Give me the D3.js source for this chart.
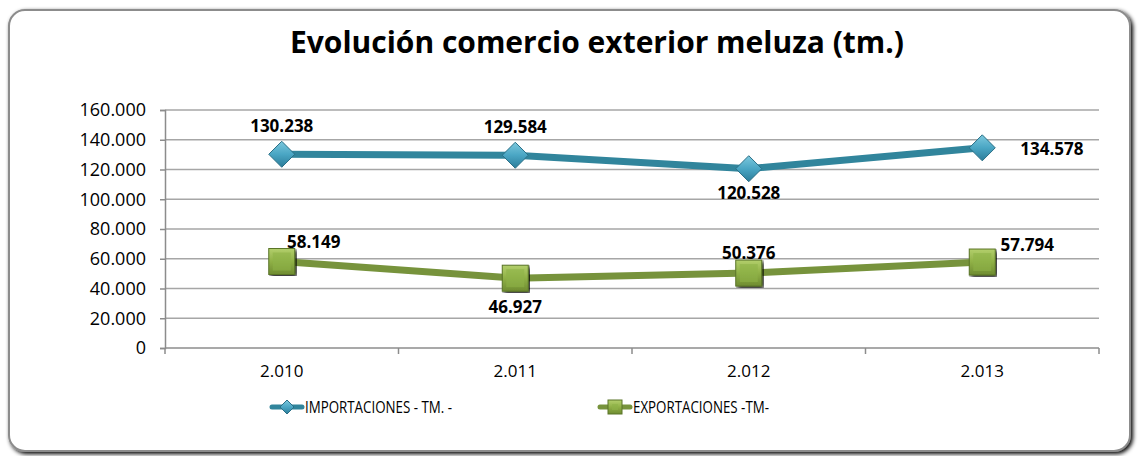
<!DOCTYPE html>
<html>
<head>
<meta charset="utf-8">
<script src="https://cdn.jsdelivr.net/npm/d3@7"></script>
<style>
  body { margin: 0; background: #fff; }
  text { font-family: "Open Sans", "DejaVu Sans", sans-serif; }
</style>
</head>
<body>
<div id="chart"></div>
<script>
(function() {

  var width = 1138, height = 456;

  // data
  var years = ["2.010", "2.011", "2.012", "2.013"];
  var importaciones = [130238, 129584, 120528, 134578];
  var exportaciones = [58149, 46927, 50376, 57794];
  var yTicks = [0, 20000, 40000, 60000, 80000, 100000, 120000, 140000, 160000];

  var fmt = function(v) {
    return d3.format(",")(v).replace(/,/g, ".");
  };

  var svg = d3.select("#chart").append("svg")
    .attr("width", width)
    .attr("height", height);

  var defs = svg.append("defs");

  var shadow = defs.append("filter").attr("id", "shadow")
    .attr("x", "-5%").attr("y", "-5%").attr("width", "110%").attr("height", "110%");
  shadow.append("feGaussianBlur").attr("in", "SourceAlpha").attr("stdDeviation", 2);
  shadow.append("feOffset").attr("dx", 2).attr("dy", 2).attr("result", "b");
  var merge = shadow.append("feMerge");
  merge.append("feMergeNode").attr("in", "b");
  merge.append("feMergeNode").attr("in", "SourceGraphic");

  var gBlue = defs.append("linearGradient").attr("id", "gBlue")
    .attr("x1", 0).attr("y1", 0).attr("x2", 0).attr("y2", 1);
  gBlue.append("stop").attr("offset", "0%").attr("stop-color", "#7cc8dd");
  gBlue.append("stop").attr("offset", "50%").attr("stop-color", "#4aa6c4");
  gBlue.append("stop").attr("offset", "100%").attr("stop-color", "#2b7c99");

  var gGreen = defs.append("linearGradient").attr("id", "gGreen")
    .attr("x1", 0).attr("y1", 0).attr("x2", 0).attr("y2", 1);
  gGreen.append("stop").attr("offset", "0%").attr("stop-color", "#b3cf6c");
  gGreen.append("stop").attr("offset", "50%").attr("stop-color", "#8fb046");
  gGreen.append("stop").attr("offset", "100%").attr("stop-color", "#6f8c31");

  // outer frame
  svg.append("rect")
    .attr("x", 9).attr("y", 10)
    .attr("width", 1121).attr("height", 441)
    .attr("rx", 16)
    .attr("fill", "#fff")
    .attr("stroke", "#8c8c8c")
    .attr("stroke-width", 2)
    .attr("filter", "url(#shadow)");

  svg.append("text")
    .attr("x", 597).attr("y", 53)
    .attr("text-anchor", "middle")
    .attr("font-size", 31)
    .attr("font-weight", "bold")
    .attr("textLength", 614)
    .attr("lengthAdjust", "spacingAndGlyphs")
    .text("Evolución comercio exterior meluza (tm.)");

  var x = d3.scaleBand().domain(years).range([165, 1099]);
  var y = d3.scaleLinear().domain([0, 160000]).range([348, 110]);
  var cx = function(d, i) { return x(years[i]) + x.bandwidth() / 2; };

  // gridlines
  svg.append("g").selectAll("line")
    .data(yTicks.filter(function(d) { return d > 0; }))
    .enter().append("line")
    .attr("x1", 165).attr("x2", 1099)
    .attr("y1", function(d) { return y(d); })
    .attr("y2", function(d) { return y(d); })
    .attr("stroke", "#a6a6a6").attr("stroke-width", 1.5);

  var yAxis = svg.append("g")
    .attr("transform", "translate(165,0)")
    .call(d3.axisLeft(y).tickValues(yTicks).tickSize(5).tickPadding(14).tickFormat(fmt));
  yAxis.selectAll("text").attr("font-size", 18).attr("fill", "#000")
    .attr("font-family", "'Open Sans', sans-serif");
  yAxis.selectAll("line, path").attr("stroke", "#8c8c8c").attr("stroke-width", 1.5);

  var xAxis = svg.append("g")
    .attr("transform", "translate(0,348)")
    .call(d3.axisBottom(x).tickSize(0).tickPadding(17));
  xAxis.selectAll("text").attr("font-size", 17).attr("fill", "#000")
    .attr("font-family", "'Open Sans', sans-serif");
  xAxis.select(".domain").attr("stroke", "#8c8c8c").attr("stroke-width", 1.5)
    .attr("d", "M165,0H1099");
  // category boundary ticks
  xAxis.selectAll(".sep").data(d3.range(years.length + 1)).enter().append("line")
    .attr("x1", function(i) { return 165 + i * x.bandwidth(); })
    .attr("x2", function(i) { return 165 + i * x.bandwidth(); })
    .attr("y1", 0).attr("y2", 6)
    .attr("stroke", "#8c8c8c").attr("stroke-width", 1.5);

  var line = d3.line().x(cx).y(function(d) { return y(d); });

  svg.append("path").datum(importaciones)
    .attr("d", line).attr("fill", "none")
    .attr("stroke", "#31859c").attr("stroke-width", 7).attr("stroke-linejoin", "round");
  svg.append("path").datum(exportaciones)
    .attr("d", line).attr("fill", "none")
    .attr("stroke", "#77933c").attr("stroke-width", 7).attr("stroke-linejoin", "round");

  function diamond(g, s) {
    g.append("path")
      .attr("d", "M0," + (-s) + "L" + s + ",0L0," + s + "L" + (-s) + ",0Z")
      .attr("fill", "url(#gBlue)")
      .attr("stroke", "#2a6f86").attr("stroke-width", 1);
  }
  function square(g, s) {
    g.append("rect")
      .attr("x", -s).attr("y", -s).attr("width", 2 * s).attr("height", 2 * s)
      .attr("fill", "url(#gGreen)")
      .attr("stroke", "#5a7428").attr("stroke-width", 1);
    g.append("rect")
      .attr("x", -s + 4).attr("y", -s + 4).attr("width", 2 * s - 8).attr("height", 2 * s - 8)
      .attr("fill", "#8db347").attr("opacity", 0.6);
  }

  svg.append("g").selectAll("g").data(importaciones).enter().append("g")
    .attr("transform", function(d, i) { return "translate(" + cx(d, i) + "," + y(d) + ")"; })
    .each(function() { diamond(d3.select(this), 13); });

  svg.append("g").selectAll("g").data(exportaciones).enter().append("g")
    .attr("transform", function(d, i) { return "translate(" + cx(d, i) + "," + y(d) + ")"; })
    .attr("filter", "url(#shadow)")
    .each(function() { square(d3.select(this), 13); });

  // data labels: offsets per point
  var impOff = [[0, -22, "middle"], [0, -22, "middle"], [0, 30, "middle"], [38, 7, "start"]];
  var expOff = [[32, -14, "middle"], [0, 35, "middle"], [0, -14, "middle"], [45, -11, "middle"]];

  function labels(data, off) {
    svg.append("g").selectAll("text").data(data).enter().append("text")
      .attr("x", function(d, i) { return cx(d, i) + off[i][0]; })
      .attr("y", function(d, i) { return y(d) + off[i][1]; })
      .attr("text-anchor", function(d, i) { return off[i][2]; })
      .attr("font-size", 17).attr("font-weight", "bold")
      .text(fmt);
  }
  labels(importaciones, impOff);
  labels(exportaciones, expOff);

  // legend
  var legend = [
    { name: "IMPORTACIONES - TM. -", x: 270, w: 147, color: "#31859c", m: "d" },
    { name: "EXPORTACIONES -TM-", x: 598, w: 136, color: "#77933c", m: "s" }
  ];
  var lg = svg.append("g").selectAll("g").data(legend).enter().append("g")
    .attr("transform", function(d) { return "translate(" + d.x + ",407)"; });
  lg.append("line").attr("x1", 2).attr("x2", 32)
    .attr("stroke", function(d) { return d.color; })
    .attr("stroke-width", 5).attr("stroke-linecap", "round");
  lg.each(function(d) {
    var g = d3.select(this).append("g").attr("transform", "translate(17,0)");
    if (d.m === "d") diamond(g, 7); else square(g, 7);
  });
  lg.append("text").attr("x", 35).attr("y", 6)
    .attr("font-size", 16)
    .attr("textLength", function(d) { return d.w; })
    .attr("lengthAdjust", "spacingAndGlyphs")
    .text(function(d) { return d.name; });

})();
</script>
</body>
</html>
